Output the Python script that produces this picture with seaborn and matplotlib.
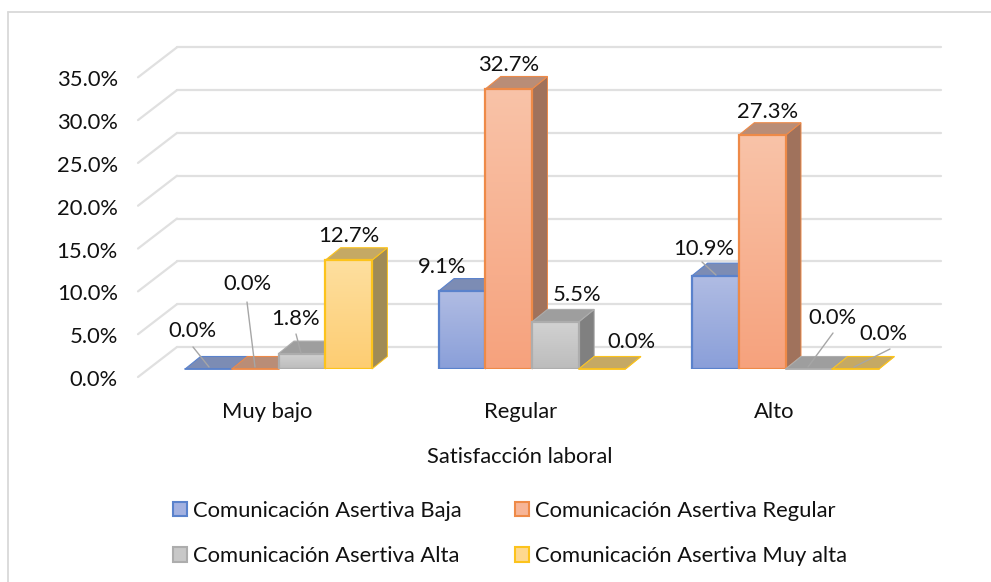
import numpy as np
import pandas as pd
import matplotlib
matplotlib.use("Agg")
import matplotlib.pyplot as plt
from matplotlib.lines import Line2D
from matplotlib.patches import Patch
from matplotlib.transforms import ScaledTranslation
import seaborn as sns

categories = ["Muy bajo", "Regular", "Alto"]
series = ["Comunicación Asertiva Baja", "Comunicación Asertiva Regular",
          "Comunicación Asertiva Alta", "Comunicación Asertiva Muy alta"]
baja = [0.0, 9.1, 10.9]
regular = [0.0, 32.7, 27.3]
alta = [1.8, 5.5, 0.0]
muy_alta = [12.7, 0.0, 0.0]
y_ticks = [0, 5, 10, 15, 20, 25, 30, 35]

df = pd.DataFrame({
    "cat": categories * 4,
    "serie": np.repeat(series, 3),
    "valor": baja + regular + alta + muy_alta,
})

edge = ["#5a82cc", "#ee8a48", "#adadad", "#fcc31c"]
grad_top = ["#b0bce3", "#f9c3a8", "#d2d2d2", "#fedf9f"]
grad_bot = ["#8a9fd9", "#f6a27d", "#bcbcbc", "#fdcd72"]
legend_fill = ["#a3b1e0", "#f7b597", "#c8c8c8", "#fed88f"]
top_col = ["#7c8cb4", "#b98d77", "#9e9e9e", "#c5a964"]
side_col = ["#66789f", "#a0725c", "#808080", "#a08b56"]

W, H = 991, 582
FS = 15.8
TXT = "#111111"
fig = plt.figure(figsize=(W / 100, H / 100), dpi=100)
sns.set_style("white")
plt.rcParams["font.family"] = ["Lato", "DejaVu Sans"]

# front plane of the bars, in pixels
left, right, base, top = 151.75, 912.25, 369.0, 69.3
ax = fig.add_axes([left / W, 1 - base / H, (right - left) / W, (base - top) / H])
sns.barplot(data=df, x="cat", y="valor", hue="serie", order=categories, hue_order=series,
            palette=grad_bot, width=0.737, gap=0, ax=ax)
handles, labels = ax.get_legend_handles_labels()
ax.get_legend().remove()
ax.set_xlim(-0.5, 2.5)
ax.set_ylim(0, 35)
sns.despine(ax=ax, left=True, bottom=True)
ax.patch.set_alpha(0)

px_x = 3 / (right - left)
px_y = 35 / (base - top)

# walls: back gridlines and the diagonal ones on the side
grid = "#e0e0e0"
for v in y_ticks:
    ax.plot([-0.5 + 25.25 * px_x, 2.5 + 28.75 * px_x], [v + 22 * px_y] * 2, color=grid, lw=1.6,
            clip_on=False, zorder=1)
    ax.plot([-0.5 - 13.75 * px_x, -0.5 + 25.25 * px_x], [v - 8 * px_y, v + 22 * px_y], color=grid,
            lw=1.6, clip_on=False, zorder=1)

# bars with fake 3d faces
ddx, ddy = 15.5 * px_x, 12.5 * px_y
bars = []
for i, cont in enumerate(ax.containers):
    for p in cont.patches:
        bars.append((p.get_x(), i, p))
bars.sort(key=lambda b: b[0])
z = 3
for x0, i, p in bars:
    w, h = p.get_width(), p.get_height()
    x1 = x0 + w
    ax.fill([x1, x1 + ddx, x1 + ddx, x1], [0, ddy, h + ddy, h], facecolor=side_col[i],
            edgecolor=edge[i], lw=0.7, zorder=z, clip_on=False)
    ax.fill([x0, x1, x1 + ddx, x0 + ddx], [h, h, h + ddy, h + ddy], facecolor=top_col[i],
            edgecolor=edge[i], lw=0.8, zorder=z, clip_on=False)
    p.set_zorder(z + 2)
    p.set_edgecolor(edge[i])
    p.set_linewidth(1.6)
    if h > 0:
        p.set_facecolor("none")
        c0 = np.array(matplotlib.colors.to_rgb(grad_top[i]))
        c1 = np.array(matplotlib.colors.to_rgb(grad_bot[i]))
        g = np.linspace(0, 1, 64)[:, None, None] * (c1 - c0) + c0
        ax.imshow(g, extent=[x0, x1, 0, h], origin="upper", aspect="auto", zorder=z + 1,
                  interpolation="bilinear")
    else:
        p.set_visible(False)
        ax.plot([x0, x1], [0, 0], color=edge[i], lw=1.2, zorder=z + 2, clip_on=False)
    z += 3
ax.set_xlim(-0.5, 2.5)
ax.set_ylim(0, 35)

# data labels, offsets from each bar's front top centre in pixels
lab_off = {
    (0, 0): (-16.5, 38), (0, 1): (-8, 85), (0, 2): (-6, 35), (0, 3): (0, 24),
    (1, 0): (-20, 24), (1, 1): (0, 24), (1, 2): (22, 27), (1, 3): (29, 27),
    (2, 0): (-12, 27), (2, 1): (5, 23), (2, 2): (24, 51), (2, 3): (28, 35),
}
leaders = {
    (0, 0): ((193, 347), (209, 367)),
    (0, 1): ((247, 302), (255, 367)),
    (0, 2): ((296, 334), (301, 353)),
    (2, 0): ((702, 262), (716, 275)),
    (2, 2): ((833, 333), (808, 367)),
    (2, 3): ((890, 349), (854, 367)),
}
vals = [baja, regular, alta, muy_alta]
for x0, i, p in bars:
    cx = x0 + p.get_width() / 2
    j = int(round(cx))
    ax.annotate(f"{vals[i][j]:.1f}%", (cx, p.get_height()), xytext=lab_off[(j, i)],
                textcoords="offset pixels", ha="center", va="center", fontsize=FS, color=TXT,
                zorder=100, annotation_clip=False)
    if (j, i) in leaders:
        (a, b), (c, d) = leaders[(j, i)]
        ax.plot([(a - left) * px_x - 0.5, (c - left) * px_x - 0.5],
                [(base - b) * px_y, (base - d) * px_y], color="#a6a6a6", lw=1.0, zorder=99,
                clip_on=False)

# axis text
ax.set_yticks(y_ticks)
ax.set_yticklabels([f"{v:.1f}%" for v in y_ticks], fontsize=FS, color=TXT)
ax.tick_params(axis="y", length=0, pad=24.5)
for t in ax.get_yticklabels():
    t.set_transform(t.get_transform() + ScaledTranslation(0, -9 / 100, fig.dpi_scale_trans))
ax.set_xticks([c - 11.5 * px_x for c in range(3)])
ax.set_xticklabels(categories, fontsize=FS, color=TXT)
ax.tick_params(axis="x", length=0, pad=23.5)
ax.set_xlabel("Satisfacción laboral", fontsize=FS, color=TXT, labelpad=18,
              x=(520 - left) / (right - left))
ax.set_ylabel("")

order = [0, 2, 1, 3]
leg_handles = [Patch(facecolor=legend_fill[i], edgecolor=edge[i], lw=1.5) for i in order]
fig.legend(leg_handles, [labels[i] for i in order], ncol=2, frameon=False,
           loc="center left", bbox_to_anchor=(172.5 / W, 1 - 533.5 / H), fontsize=FS,
           handlelength=0.65, handleheight=0.65, handletextpad=0.3, labelspacing=1.18,
           columnspacing=2.4, labelcolor=TXT, borderpad=0, borderaxespad=0)

# chart frame
fc = "#d9d9d9"
fig.add_artist(Line2D([8 / W, 8 / W], [0, 1 - 11.5 / H], color=fc, lw=1.3))
fig.add_artist(Line2D([8 / W, 1], [1 - 11.5 / H] * 2, color=fc, lw=1.3))

fig.savefig("out.png", dpi=100)
